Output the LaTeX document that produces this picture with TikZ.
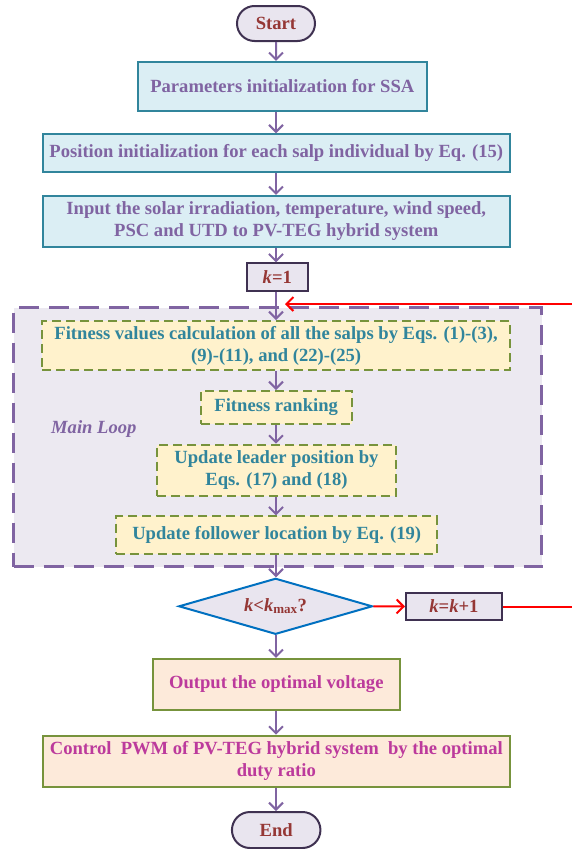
\documentclass[tikz,border=0pt]{standalone}
\usepackage{fontspec}
\setmainfont{Liberation Serif}
\usetikzlibrary{arrows.meta,shapes.geometric,shapes.misc}
\definecolor{darkpurp}{HTML}{3F3151}
\definecolor{purp}{HTML}{8064A2}
\definecolor{teal1}{HTML}{31859C}
\definecolor{lblue}{HTML}{DBEEF4}
\definecolor{lav}{HTML}{E9E5EF}
\definecolor{loopfill}{HTML}{ECE9F1}
\definecolor{cream}{HTML}{FFF2CC}
\definecolor{olive}{HTML}{77933C}
\definecolor{peach}{HTML}{FDEADA}
\definecolor{dred}{HTML}{953735}
\definecolor{magen}{HTML}{BC3A9C}
\definecolor{blue1}{HTML}{0070C0}
\definecolor{red1}{HTML}{FF0000}
\tikzset{
  x=1pt,y=-1pt,
  base/.style={inner sep=0pt,align=center,font=\fontsize{18.6}{22}\selectfont\bfseries},
  term/.style={base,rounded rectangle,draw=darkpurp,line width=2pt,fill=lav,text=dred},
  initbox/.style={base,rectangle,draw=teal1,line width=2pt,fill=lblue,text=purp},
  kbox/.style={base,rectangle,draw=darkpurp,line width=2pt,fill=lav,text=dred},
  loopbox/.style={base,rectangle,draw=olive,line width=2pt,dash pattern=on 9pt off 5pt,fill=cream,text=teal1},
  outbox/.style={base,rectangle,draw=olive,line width=2pt,fill=peach,text=magen},
  arr/.style={draw=purp,line width=2pt,-{Straight Barb[length=7pt,width=14pt,line width=2pt]}},
  redarr/.style={draw=red1,line width=2pt,-{Straight Barb[length=7pt,width=14pt,line width=2pt]}},
}
\begin{document}
\begin{tikzpicture}
\useasboundingbox (0,0) rectangle (571,849);
% main loop background
\node[draw=purp,line width=3pt,dash pattern=on 20pt off 10pt,fill=loopfill,minimum width=528pt,minimum height=259pt,inner sep=0pt] (loop) at (277.5,437.2) {};
\node[font=\fontsize{18.6}{22}\selectfont\itshape\bfseries,text=purp,anchor=west,inner sep=0pt] (mlabel) at (51,429) {Main Loop};

\node[term,minimum width=78pt,minimum height=35pt] (start) at (276,23.5) {Start};
\node[initbox,minimum width=289.4pt,minimum height=48.7pt] (param) at (282.3,86.3) {Parameters initialization for SSA};
\node[initbox,minimum width=467.4pt,minimum height=38pt] (pos) at (276.3,153.3) {Position initialization for each salp individual by Eq. (15)};
\node[initbox,minimum width=467.4pt,minimum height=50.7pt] (input) at (276.3,221.3) {Input the solar irradiation, temperature, wind speed,\\PSC and UTD to PV-TEG hybrid system};
\node[kbox,minimum width=60.7pt,minimum height=27.7pt] (k1) at (277.3,277.2) {\textit{k}=1};
\node[loopbox,minimum width=467.8pt,minimum height=49pt] (fit) at (276.1,345.5) {Fitness values calculation of all the salps by Eqs. (1)-(3),\\(9)-(11), and (22)-(25)};
\node[loopbox,minimum width=151pt,minimum height=33pt] (rank) at (276.2,407.5) {Fitness ranking};
\node[loopbox,minimum width=239pt,minimum height=51pt] (leader) at (276.5,470.2) {Update leader position by\\Eqs. (17) and (18)};
\node[loopbox,minimum width=320.5pt,minimum height=37.7pt] (follow) at (276.7,535.2) {Update follower location by Eq. (19)};
\node[base,diamond,draw=blue1,line width=2pt,fill=lav,text=dred,minimum width=193.7pt,minimum height=56pt,aspect=3.46] (dia) at (275.6,606.3) {\textit{k}<\textit{k}\textsubscript{max}?};
\node[kbox,minimum width=95.8pt,minimum height=27pt] (kk1) at (453.9,606.5) {\textit{k}=\textit{k}+1};
\node[outbox,minimum width=247.4pt,minimum height=50.7pt] (out) at (276.3,684.3) {Output the optimal voltage};
\node[outbox,minimum width=467.4pt,minimum height=51pt] (ctrl) at (276.3,761.2) {Control~~PWM of PV-TEG hybrid system~~by the optimal\\duty ratio};
\node[term,minimum width=88.5pt,minimum height=36pt] (end) at (276.2,830) {End};

\coordinate (redtip) at (285,304);
\coordinate (rtop) at (575,304);
\coordinate (rbot) at (575,606.5);

\draw[arr] (start) -- (start |- param.north);
\draw[arr] (param.south -| start) -- (start |- pos.north);
\draw[arr] (pos.south -| start) -- (start |- input.north);
\draw[arr] (input.south -| start) -- (start |- k1.north);
\draw[arr] (k1.south -| start) -- (start |- fit.north);
\draw[arr] (fit.south -| start) -- (start |- rank.north);
\draw[arr] (rank.south -| start) -- (start |- leader.north);
\draw[arr] (leader.south -| start) -- (start |- follow.north);
\draw[arr] (follow.south -| start) -- (start |- dia.north);
\draw[arr] (dia.south -| start) -- (start |- out.north);
\draw[arr] (out.south -| start) -- (start |- ctrl.north);
\draw[arr] (ctrl.south -| start) -- (start |- end.north);
\draw[redarr] (dia.east) -- (kk1.west);
\draw[redarr] (kk1.east) -- (rbot) -- (rtop) -- (redtip);
\end{tikzpicture}
\end{document}
